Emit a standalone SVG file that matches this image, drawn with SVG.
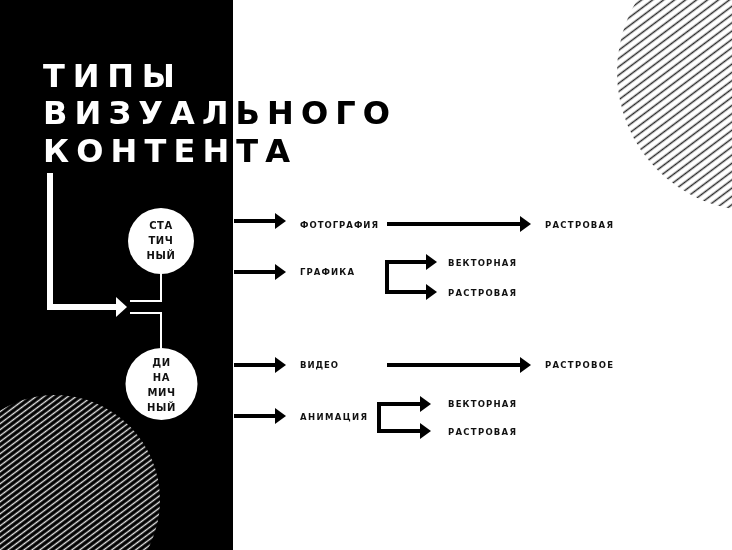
<svg xmlns="http://www.w3.org/2000/svg" width="732" height="550" viewBox="0 0 732 550">
<defs>
<style>
.title{font-family:"DejaVu Sans","Noto Sans",sans-serif;font-weight:700;font-size:32px;fill:#fff;mix-blend-mode:difference}
.lbl{font-family:"DejaVu Sans","Noto Sans",sans-serif;font-weight:700;font-size:8.5px;fill:#111}
.ctext{font-family:"DejaVu Sans","Noto Sans",sans-serif;font-weight:700;font-size:10px;fill:#111;text-anchor:middle;letter-spacing:0.6px}
.arr{fill:none;stroke:#000;stroke-width:4;marker-end:url(#ah)}
.thin{fill:none;stroke:#fff;stroke-width:2}
</style>
<marker id="ah" markerUnits="userSpaceOnUse" markerWidth="11" markerHeight="16" refX="1" refY="8" orient="auto">
<path d="M0,0 L11,8 L0,16 Z" fill="#000"/>
</marker>
<marker id="wah" markerUnits="userSpaceOnUse" markerWidth="11" markerHeight="20" refX="1" refY="10" orient="auto">
<path d="M0,0 L11,10 L0,20 Z" fill="#fff"/>
</marker>
<pattern id="hatchDark" patternUnits="userSpaceOnUse" width="10" height="6.6" patternTransform="rotate(-37)">
<line x1="0" y1="3.3" x2="10" y2="3.3" stroke="#2a2a2a" stroke-width="1.5"/>
</pattern>
<pattern id="hatchLight" patternUnits="userSpaceOnUse" width="10" height="4.8" patternTransform="rotate(-37)">
<line x1="0" y1="2.4" x2="10" y2="2.4" stroke="#e6e6e6" stroke-width="1.4"/>
</pattern>
</defs>
<rect x="0" y="0" width="732" height="550" fill="#fff"/>
<rect x="0" y="0" width="233" height="550" fill="#000"/>
<circle cx="756" cy="72" r="139" fill="url(#hatchDark)"/>
<circle cx="55" cy="500" r="105" fill="url(#hatchLight)"/>
<g id="title">
<text class="title" x="43" y="87" textLength="132" lengthAdjust="spacing">ТИПЫ</text>
<text class="title" x="43" y="124" textLength="347" lengthAdjust="spacing">ВИЗУАЛЬНОГО</text>
<text class="title" x="43" y="162" textLength="247" lengthAdjust="spacing">КОНТЕНТА</text>
</g>
<g id="connectors">
<path d="M50,173 V307 H117" fill="none" stroke="#fff" stroke-width="6" marker-end="url(#wah)"/>
<path class="thin" d="M161,272 V301 H130"/>
<path class="thin" d="M130,313 H161 V350"/>
<path class="arr" d="M234,221 H276"/>
<path class="arr" d="M234,272 H276"/>
<path class="arr" d="M234,365 H276"/>
<path class="arr" d="M234,416 H276"/>
<path class="arr" d="M387,224 H521"/>
<path class="arr" d="M387,365 H521"/>
<path class="arr" d="M387,277 V262 H427"/>
<path class="arr" d="M387,277 V292 H427"/>
<path class="arr" d="M379,417 V404 H421"/>
<path class="arr" d="M379,417 V431 H421"/>
</g>
<g id="static">
<circle cx="161" cy="241" r="33" fill="#fff"/>
<text class="ctext" x="161" y="229">СТА</text>
<text class="ctext" x="161" y="244">ТИЧ</text>
<text class="ctext" x="161" y="259">НЫЙ</text>
</g>
<g id="dynamic">
<circle cx="161.5" cy="384" r="36" fill="#fff"/>
<text class="ctext" x="161.5" y="366">ДИ</text>
<text class="ctext" x="161.5" y="381">НА</text>
<text class="ctext" x="161.5" y="396">МИЧ</text>
<text class="ctext" x="161.5" y="411">НЫЙ</text>
</g>
<g id="photo"><text class="lbl" x="300" y="228" textLength="78" lengthAdjust="spacing">ФОТОГРАФИЯ</text></g>
<g id="photo-raster"><text class="lbl" x="545" y="228" textLength="68" lengthAdjust="spacing">РАСТРОВАЯ</text></g>
<g id="graphics"><text class="lbl" x="300" y="275" textLength="54" lengthAdjust="spacing">ГРАФИКА</text></g>
<g id="graphics-vector"><text class="lbl" x="448" y="266" textLength="68" lengthAdjust="spacing">ВЕКТОРНАЯ</text></g>
<g id="graphics-raster"><text class="lbl" x="448" y="296" textLength="68" lengthAdjust="spacing">РАСТРОВАЯ</text></g>
<g id="video"><text class="lbl" x="300" y="368" textLength="38" lengthAdjust="spacing">ВИДЕО</text></g>
<g id="video-raster"><text class="lbl" x="545" y="368" textLength="68" lengthAdjust="spacing">РАСТРОВОЕ</text></g>
<g id="animation"><text class="lbl" x="300" y="420" textLength="67" lengthAdjust="spacing">АНИМАЦИЯ</text></g>
<g id="animation-vector"><text class="lbl" x="448" y="407" textLength="68" lengthAdjust="spacing">ВЕКТОРНАЯ</text></g>
<g id="animation-raster"><text class="lbl" x="448" y="435" textLength="68" lengthAdjust="spacing">РАСТРОВАЯ</text></g>
</svg>
